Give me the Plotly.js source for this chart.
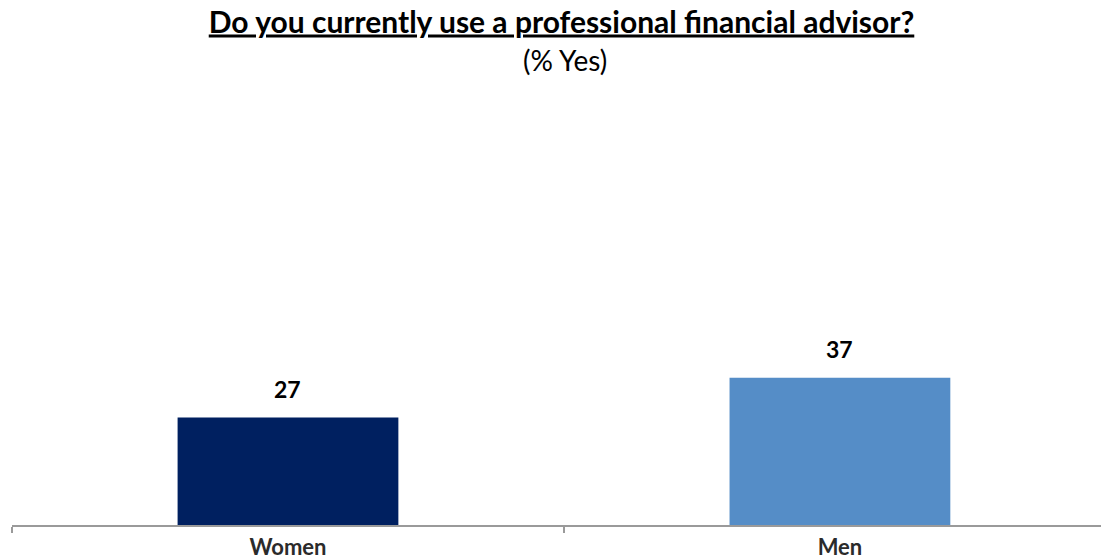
<!DOCTYPE html>
<html>
<head>
<meta charset="utf-8">
<script src="https://cdn.plot.ly/plotly-3.0.1.min.js"></script>
<style>html,body{margin:0;padding:0;background:#fff;}#chart{width:1101px;height:559px;}</style>
</head>
<body>
<div id="chart"></div>
<script>
const categories = ["Women", "Men"];
const values = [27, 37];
const barColors = ["#002060", "#558DC7"];
const titleText = "Do you currently use a professional financial advisor?";
const subtitleText = "(% Yes)";

const FONT = "Lato, 'Liberation Sans Narrow', sans-serif";

const trace = {
  type: "bar",
  x: categories,
  y: values,
  marker: {color: barColors, line: {width: 0}},
  hoverinfo: "x+y"
};

const annotations = categories.map((c, i) => ({
  x: c, y: values[i], xref: "x", yref: "y",
  text: "<b>" + values[i] + "</b>",
  showarrow: false, yanchor: "bottom", yshift: 13,
  font: {family: FONT, size: 23, color: "#000"}
}));
annotations.push({
  x: 0.508, xref: "paper", yref: "paper", yanchor: "middle",
  y: (559 - 34 - 60) / (559 - 127 - 34),
  text: subtitleText, showarrow: false,
  font: {family: FONT, size: 28, color: "#000"}
});

const layout = {
  width: 1101, height: 559,
  margin: {l: 12, r: 0, t: 127, b: 34, pad: 0},
  paper_bgcolor: "#fff", plot_bgcolor: "#fff",
  title: {
    text: "<b><u>" + titleText + "</u></b>",
    x: 0.510, xanchor: "center", y: 1 - 22/559, yanchor: "middle",
    font: {family: FONT, size: 30, color: "#000"}
  },
  bargap: 0.6,
  showlegend: false,
  xaxis: {
    type: "category",
    range: [-0.5, 1.473],
    showline: true, linecolor: "#9a9a9a", linewidth: 2,
    ticks: "outside", tickson: "boundaries", ticklen: 6, tickcolor: "#9a9a9a", tickwidth: 2,
    ticklabelstandoff: 2,
    tickfont: {family: FONT, size: 22, color: "#2b2b2b", weight: "bold"},
    showgrid: false, zeroline: false, fixedrange: true
  },
  yaxis: {
    range: [0, 100], visible: false, showgrid: false, zeroline: false, fixedrange: true
  },
  annotations: annotations
};

Plotly.newPlot("chart", [trace], layout, {displayModeBar: false, staticPlot: true});
</script>
</body>
</html>
